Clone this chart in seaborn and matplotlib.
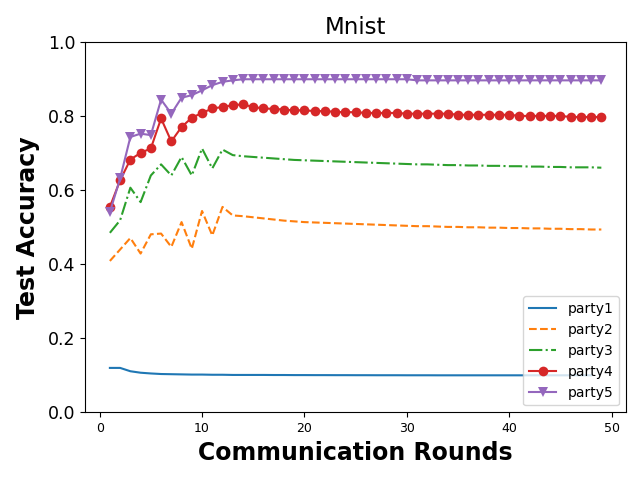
import numpy as np
import pandas as pd
import matplotlib
matplotlib.use("Agg")
import matplotlib.pyplot as plt
import seaborn as sns

# =========================================
# DATA
# =========================================

rounds = list(range(1, 50))
rounds_p1 = list(range(1, 49))

party1 = [0.120, 0.120, 0.111, 0.107, 0.105, 0.1035, 0.103, 0.1025, 0.102, 0.102,
          0.1015, 0.1015, 0.101, 0.101, 0.101, 0.101, 0.1008, 0.1008, 0.1006, 0.1006,
          0.1005, 0.1005, 0.1004, 0.1004, 0.1003, 0.1003, 0.1002, 0.1002, 0.1002, 0.1001,
          0.1001, 0.1001, 0.1000, 0.1000, 0.1000, 0.1000, 0.1000, 0.1000, 0.1000, 0.1000,
          0.1000, 0.1000, 0.1000, 0.1000, 0.1000, 0.1000, 0.1000, 0.1000]

party2 = [0.409, 0.440, 0.471, 0.429, 0.481, 0.483, 0.447, 0.514, 0.442, 0.544,
          0.478, 0.555, 0.532, 0.530, 0.527, 0.524, 0.521, 0.518, 0.516, 0.514,
          0.513, 0.512, 0.511, 0.510, 0.509, 0.508, 0.507, 0.506, 0.505, 0.504,
          0.503, 0.503, 0.502, 0.501, 0.501, 0.500, 0.500, 0.499, 0.499, 0.498,
          0.498, 0.497, 0.497, 0.496, 0.496, 0.495, 0.495, 0.494, 0.494]

party3 = [0.485, 0.519, 0.607, 0.568, 0.640, 0.670, 0.640, 0.690, 0.640, 0.713,
          0.659, 0.710, 0.695, 0.692, 0.690, 0.688, 0.686, 0.684, 0.682, 0.681,
          0.680, 0.679, 0.678, 0.677, 0.676, 0.675, 0.674, 0.673, 0.672, 0.671,
          0.670, 0.670, 0.669, 0.668, 0.668, 0.667, 0.667, 0.666, 0.666, 0.665,
          0.665, 0.664, 0.664, 0.663, 0.663, 0.662, 0.662, 0.662, 0.661]

party4 = [0.555, 0.627, 0.683, 0.701, 0.713, 0.794, 0.732, 0.771, 0.796, 0.809,
          0.821, 0.825, 0.830, 0.832, 0.825, 0.821, 0.820, 0.818, 0.816, 0.816,
          0.814, 0.814, 0.812, 0.811, 0.811, 0.809, 0.809, 0.809, 0.809, 0.807,
          0.807, 0.807, 0.807, 0.807, 0.804, 0.804, 0.804, 0.804, 0.804, 0.804,
          0.801, 0.801, 0.801, 0.801, 0.801, 0.798, 0.798, 0.798, 0.798]

party5 = [0.541, 0.632, 0.744, 0.753, 0.749, 0.845, 0.807, 0.850, 0.857, 0.870,
          0.884, 0.893, 0.897, 0.900, 0.900, 0.900, 0.900, 0.900, 0.900, 0.900,
          0.900, 0.900, 0.900, 0.900, 0.900, 0.900, 0.900, 0.900, 0.900, 0.900,
          0.897, 0.897, 0.897, 0.897, 0.897, 0.897, 0.897, 0.897, 0.897, 0.897,
          0.897, 0.897, 0.897, 0.897, 0.897, 0.897, 0.897, 0.897, 0.897]

# =========================================
# PLOT
# =========================================

fig, ax = plt.subplots(figsize=(6.4, 4.8), dpi=100)

sns.lineplot(x=rounds_p1, y=party1, ax=ax, color="#1f77b4", linestyle="-",
             label="party1")
sns.lineplot(x=rounds, y=party2, ax=ax, color="#ff7f0e", linestyle="--",
             label="party2")
sns.lineplot(x=rounds, y=party3, ax=ax, color="#2ca02c", linestyle="-.",
             label="party3")
sns.lineplot(x=rounds, y=party4, ax=ax, color="#d62728", linestyle="-",
             marker="o", markersize=7, markeredgewidth=0, label="party4")
sns.lineplot(x=rounds, y=party5, ax=ax, color="#9467bd", linestyle="-",
             marker="v", markersize=7, markeredgewidth=0, label="party5")

ax.set_ylim(0, 1.0)
ax.set_title("Mnist", fontsize=16.5)
ax.set_xlabel("Communication Rounds", fontsize=17, fontweight="bold")
ax.set_ylabel("Test Accuracy", fontsize=17, fontweight="bold", labelpad=5.5)
ax.tick_params(axis="y", labelsize=12.5)
ax.tick_params(axis="x", labelsize=9)
ax.legend(loc="lower right")

fig.subplots_adjust(left=0.1333, right=0.978, top=0.912, bottom=0.141)

plt.savefig("out.png", dpi=100)
plt.close()
